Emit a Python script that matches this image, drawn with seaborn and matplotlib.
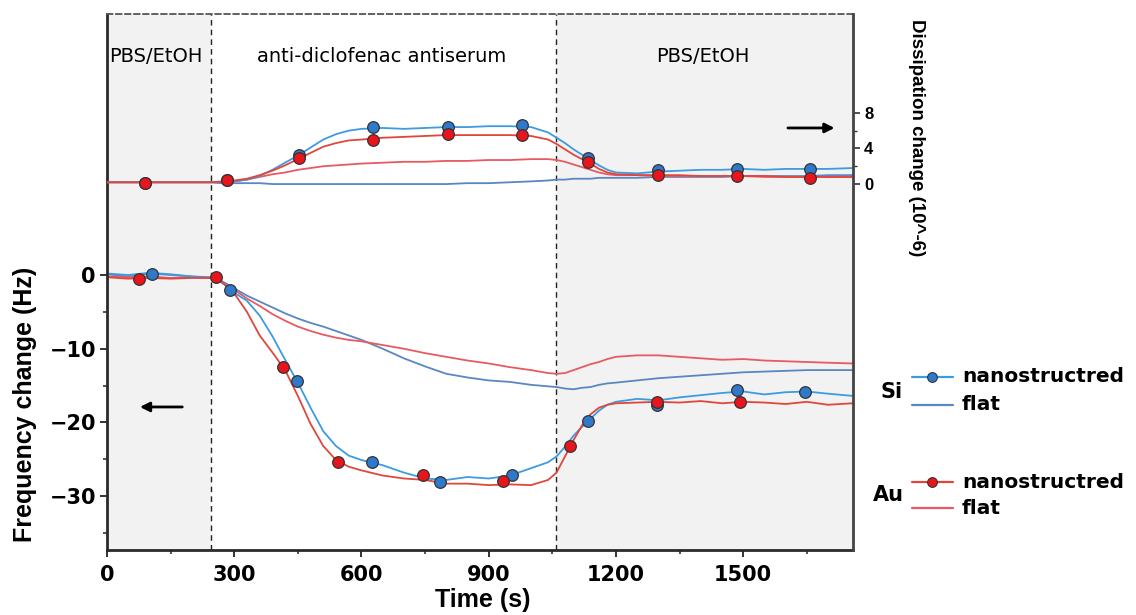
import matplotlib
matplotlib.use("Agg")
import matplotlib.pyplot as plt
import seaborn as sns
from matplotlib.lines import Line2D
import matplotlib.transforms as mtransforms

# time grid (s) used for all traces
time_s = [0, 50, 100, 150, 200, 245, 270, 300, 330, 360, 390, 420, 450, 480, 510, 540, 570,
          600, 650, 700, 750, 800, 850, 900, 950, 1000, 1040, 1060, 1080, 1100, 1120, 1140,
          1160, 1180, 1200, 1250, 1300, 1350, 1400, 1450, 1500, 1550, 1600, 1650, 1700, 1759]

# frequency change (Hz), left axis
si_nano_freq = [0.2, 0.0, 0.3, 0.1, -0.2, -0.4, -1.0, -2.4, -3.5, -5.5, -8.3, -11.5, -14.6, -18.0,
                -21.2, -23.2, -24.5, -25.1, -25.8, -26.8, -27.6, -27.8, -27.4, -27.6, -27.2, -26.2,
                -25.4, -24.6, -23.3, -21.8, -20.6, -19.5, -18.4, -17.6, -17.2, -16.8, -17.0, -16.6,
                -16.3, -16.0, -15.8, -16.2, -15.9, -15.8, -16.1, -16.4]
au_nano_freq = [-0.3, -0.5, -0.4, -0.5, -0.4, -0.4, -0.9, -2.5, -5.0, -8.2, -10.5, -12.9, -16.4,
                -20.2, -23.2, -25.1, -26.0, -26.5, -27.2, -27.6, -27.8, -28.3, -28.3, -28.5, -28.4,
                -28.5, -27.8, -26.8, -24.6, -22.4, -20.4, -18.9, -18.0, -17.6, -17.4, -17.3, -17.2,
                -17.3, -17.1, -17.4, -17.2, -17.3, -17.5, -17.2, -17.6, -17.4]
si_flat_freq = [0.1, -0.2, 0.2, 0.0, -0.2, -0.3, -0.8, -1.8, -2.8, -3.6, -4.4, -5.2, -5.9, -6.5,
                -7.0, -7.6, -8.2, -8.8, -10.0, -11.3, -12.4, -13.4, -13.9, -14.3, -14.5, -14.9,
                -15.1, -15.2, -15.4, -15.5, -15.3, -15.2, -14.9, -14.7, -14.6, -14.3, -14.0, -13.8,
                -13.6, -13.4, -13.2, -13.1, -13.0, -12.9, -12.9, -12.9]
au_flat_freq = [-0.2, -0.3, -0.2, -0.4, -0.3, -0.4, -1.0, -2.0, -3.2, -4.2, -5.3, -6.2, -7.0, -7.6,
                -8.1, -8.5, -8.8, -9.0, -9.5, -10.0, -10.6, -11.1, -11.6, -12.0, -12.5, -12.9,
                -13.3, -13.4, -13.3, -12.9, -12.5, -12.1, -11.8, -11.4, -11.1, -10.9, -10.9, -11.1,
                -11.3, -11.5, -11.4, -11.6, -11.7, -11.8, -11.9, -12.0]

# dissipation change (10^-6), right axis
si_nano_diss = [0.2, 0.2, 0.2, 0.2, 0.2, 0.2, 0.2, 0.3, 0.5, 0.9, 1.6, 2.4, 3.2, 4.1, 5.0, 5.6, 6.0,
                6.2, 6.3, 6.2, 6.3, 6.4, 6.4, 6.5, 6.5, 6.4, 5.8, 5.2, 4.6, 3.9, 3.3, 2.7, 2.1, 1.6,
                1.3, 1.2, 1.4, 1.5, 1.6, 1.6, 1.7, 1.6, 1.7, 1.7, 1.7, 1.8]
au_nano_diss = [0.2, 0.2, 0.2, 0.2, 0.2, 0.2, 0.3, 0.4, 0.6, 1.0, 1.5, 2.1, 2.8, 3.5, 4.2, 4.6, 4.9,
                5.0, 5.2, 5.3, 5.4, 5.5, 5.5, 5.5, 5.5, 5.4, 5.0, 4.5, 3.9, 3.3, 2.8, 2.3, 1.7, 1.3,
                1.1, 1.0, 1.0, 1.0, 0.9, 0.9, 0.9, 0.9, 0.8, 0.8, 0.8, 0.8]
si_flat_diss = [0.2, 0.2, 0.2, 0.2, 0.2, 0.2, 0.1, 0.1, 0.1, 0.1, 0.0, 0.0, 0.0, 0.0, 0.0, 0.0, 0.0,
                0.0, 0.0, 0.0, 0.0, 0.0, 0.1, 0.1, 0.2, 0.3, 0.4, 0.5, 0.5, 0.6, 0.6, 0.6, 0.7, 0.7,
                0.7, 0.7, 0.8, 0.8, 0.8, 0.8, 0.9, 0.9, 0.9, 0.9, 1.0, 1.0]
au_flat_diss = [0.2, 0.2, 0.2, 0.2, 0.2, 0.2, 0.2, 0.3, 0.5, 0.8, 1.1, 1.3, 1.6, 1.8, 2.0, 2.1, 2.2,
                2.3, 2.4, 2.5, 2.5, 2.6, 2.6, 2.7, 2.7, 2.8, 2.8, 2.7, 2.5, 2.2, 1.9, 1.6, 1.3, 1.1,
                1.0, 1.0, 0.9, 0.9, 0.9, 0.9, 0.9, 0.8, 0.8, 0.8, 0.8, 0.8]

# marker positions on the nanostructured traces
si_mk_freq_t = [106, 290, 448, 625, 785, 955, 1134, 1297, 1486, 1646]
si_mk_freq = [0.1, -2.0, -14.4, -25.4, -28.1, -27.1, -19.8, -17.6, -15.6, -15.9]
au_mk_freq_t = [75, 257, 415, 545, 746, 934, 1092, 1297, 1493]
au_mk_freq = [-0.6, -0.3, -12.5, -25.4, -27.1, -28.0, -23.2, -17.2, -17.2]
mk_diss_t = [90, 283, 453, 627, 804, 979, 1134, 1300, 1486, 1658]
si_mk_diss = [0.1, 0.5, 3.3, 6.4, 6.4, 6.6, 2.9, 1.6, 1.7, 1.7]
au_mk_diss = [0.1, 0.5, 2.9, 4.9, 5.6, 5.5, 2.5, 1.0, 0.9, 0.7]

# buffer / antiserum phases
switch_t = [245, 1059]
phase_labels = ['PBS/EtOH', 'anti-diclofenac antiserum', 'PBS/EtOH']
phase_label_t = [114, 648, 1406]

SI_NANO = '#3d9be0'
SI_FLAT = '#5a86c2'
AU_NANO = '#e0473c'
AU_FLAT = '#e85a62'
SI_MK = '#2f79cc'
AU_MK = '#e8161c'

sns.set_style("white")
plt.rcParams['font.family'] = ['DejaVu Sans']
plt.rcParams['text.color'] = 'black'

W, H = 1136, 615
fig = plt.figure(figsize=(W / 100, H / 100), dpi=100)
ax = fig.add_axes([107 / W, 1 - 550 / H, (853 - 107) / W, (550 - 14) / H])
ax2 = ax.twinx()

ax.axvspan(0, switch_t[0], color='#f2f2f2', zorder=0, lw=0)
ax.axvspan(switch_t[1], 1759, color='#f2f2f2', zorder=0, lw=0)
for t in switch_t:
    ax.axvline(t, color='#222222', ls=(0, (4, 3)), lw=1, zorder=1)

# frequency traces
sns.lineplot(x=time_s, y=si_flat_freq, ax=ax, color=SI_FLAT, lw=1.3)
sns.lineplot(x=time_s, y=au_flat_freq, ax=ax, color=AU_FLAT, lw=1.3)
sns.lineplot(x=time_s, y=si_nano_freq, ax=ax, color=SI_NANO, lw=1.3)
sns.lineplot(x=time_s, y=au_nano_freq, ax=ax, color=AU_NANO, lw=1.3)
sns.scatterplot(x=si_mk_freq_t, y=si_mk_freq, ax=ax, color=SI_MK, s=70,
                edgecolor='#333333', linewidth=0.9, zorder=5)
sns.scatterplot(x=au_mk_freq_t, y=au_mk_freq, ax=ax, color=AU_MK, s=70,
                edgecolor='#333333', linewidth=0.9, zorder=6)

# dissipation traces
sns.lineplot(x=time_s, y=si_flat_diss, ax=ax2, color=SI_FLAT, lw=1.3)
sns.lineplot(x=time_s, y=au_flat_diss, ax=ax2, color=AU_FLAT, lw=1.3)
sns.lineplot(x=time_s, y=si_nano_diss, ax=ax2, color=SI_NANO, lw=1.3)
sns.lineplot(x=time_s, y=au_nano_diss, ax=ax2, color=AU_NANO, lw=1.3)
sns.scatterplot(x=mk_diss_t, y=si_mk_diss, ax=ax2, color=SI_MK, s=70,
                edgecolor='#333333', linewidth=0.9, zorder=5)
sns.scatterplot(x=mk_diss_t, y=au_mk_diss, ax=ax2, color=AU_MK, s=70,
                edgecolor='#333333', linewidth=0.9, zorder=6)

ax.set_xlim(0, 1759)
ax.set_ylim(-37.3, 35.4)
ax2.set_ylim(-41.1, 19.1)
ax.set_xlabel('')
ax.set_ylabel('')
ax2.set_ylabel('')

ax.set_xticks([0, 300, 600, 900, 1200, 1500])
ax.set_xticks([150, 450, 750, 1050, 1350, 1650], minor=True)
ax.set_yticks([-30, -20, -10, 0])
ax.set_yticks([-35, -25, -15, -5], minor=True)
ax2.set_yticks([0, 4, 8])
ax2.set_yticks([2, 6], minor=True)

ax.tick_params(axis='both', which='major', bottom=True, left=True, direction='out',
               length=5, width=1.4, color='#333333', labelsize=15, pad=3, labelcolor='black')
ax.tick_params(axis='both', which='minor', bottom=True, left=True, direction='out',
               length=3, width=1.2, color='#333333')
ax.tick_params(axis='x', which='major', pad=6)
ax2.tick_params(axis='y', which='major', right=True, direction='out', length=5, width=1.2,
                color='#333333', labelsize=12, pad=3, labelcolor='black')
ax2.tick_params(axis='y', which='minor', right=True, direction='out', length=3, width=1,
                color='#333333')
for lbl in ax.get_xticklabels() + ax.get_yticklabels():
    lbl.set_fontweight('bold')
for lbl in ax2.get_yticklabels():
    lbl.set_fontweight('bold')
    lbl.set_family('Liberation Sans')

for side in ['left', 'bottom']:
    ax.spines[side].set_color('#2a2a2a')
    ax.spines[side].set_linewidth(2)
ax.spines['right'].set_visible(False)
ax.spines['top'].set_color('#555555')
ax.spines['top'].set_linewidth(1.3)
ax.spines['top'].set_linestyle((0, (3, 2)))
for side in ['left', 'bottom', 'top']:
    ax2.spines[side].set_visible(False)
ax2.spines['right'].set_color('#444444')
ax2.spines['right'].set_linewidth(2)
ax2.spines['right'].set_linestyle((0, (2, 1)))

# phase labels
trans = mtransforms.blended_transform_factory(ax.transData, ax.transAxes)
for lab, t in zip(phase_labels, phase_label_t):
    ax.text(t, 0.92, lab, transform=trans, ha='center', va='center', fontsize=14, color='black')

# axis direction arrows
ax.annotate('', xy=(71, -17.9), xytext=(184, -17.9),
            arrowprops=dict(arrowstyle='-|>', color='black', lw=2, mutation_scale=14))
ax2.annotate('', xy=(1722, 6.3), xytext=(1599, 6.3),
             arrowprops=dict(arrowstyle='-|>', color='black', lw=2, mutation_scale=14))

# axis titles
fig.text(25 / W, 1 - 404 / H, 'Frequency change (Hz)', rotation=90, ha='center', va='center',
         fontsize=18, fontweight='bold', family='Liberation Sans')
fig.text(483 / W, 1 - 600 / H, 'Time (s)', ha='center', va='center',
         fontsize=18, fontweight='bold', family='Liberation Sans')
fig.text(917 / W, 1 - 138 / H, 'Dissipation change (10^-6)', rotation=270, ha='center',
         va='center', fontsize=13.5, fontweight='bold', family='Liberation Sans')

# legend drawn beside the plot
def legend_row(y_px, color, mk_color, text):
    y = 1 - y_px / H
    fig.add_artist(Line2D([912 / W, 953 / W], [y, y], color=color, lw=1.6))
    if mk_color is not None:
        fig.add_artist(Line2D([932 / W], [y], marker='o', ms=7, mfc=mk_color,
                              mec='#333333', mew=0.8, lw=0))
    fig.text(962 / W, y, text, ha='left', va='center', fontsize=14.5, fontweight='bold')

legend_row(377, SI_NANO, SI_MK, 'nanostructred')
legend_row(405, SI_FLAT, None, 'flat')
legend_row(482, AU_NANO, AU_MK, 'nanostructred')
legend_row(508, AU_FLAT, None, 'flat')
fig.text(892 / W, 1 - 392 / H, 'Si', ha='center', va='center', fontsize=15, fontweight='bold')
fig.text(888 / W, 1 - 495 / H, 'Au', ha='center', va='center', fontsize=15, fontweight='bold')

fig.savefig('out.png', dpi=100)
